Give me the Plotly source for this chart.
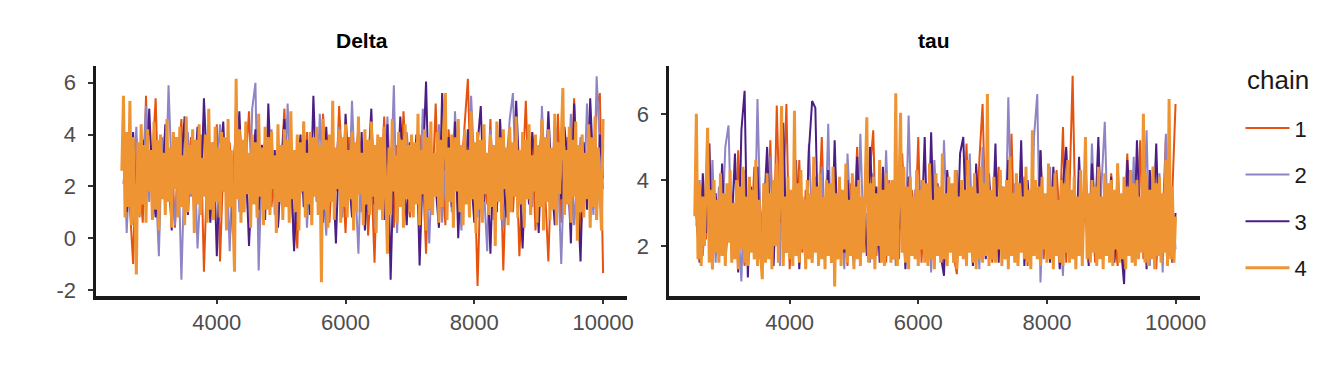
import plotly.graph_objects as go

# ---- data: thinned MCMC draws of the post-warmup iterations ----
iterations = list(range(2550, 10001, 50))        # chains 1-3: every 50th draw (150)
iterations_fine = list(range(2525, 10001, 25))   # chain 4: every 25th draw (300)

delta_chain1 = [2.1, 3.4, 1.2, -1.0, 3.8, 2.0, 0.6, 5.5, 1.8, 3.1, 5.4, 0.9, 2.7, 4.2, 1.5,
                3.3, 0.4, 2.9, 4.6, 1.1, 2.4, 3.9, 0.7, 2.2, 4.0, -1.3, 2.6, 3.5, 1.3, 4.4,
                -0.9, 2.8, 1.6, 3.7, 0.8, 5.3, 2.3, 1.0, 3.2, 4.9, 1.7, 2.5, 0.3, 3.6, 2.0,
                4.5, 1.2, 3.0, 0.5, 2.7, 5.0, 1.4, 3.4, 2.1, -0.4, 3.8, 1.9, 4.1, 0.9, 2.6,
                3.5, 1.3, 4.8, 2.2, 0.6, 3.1, 1.8, 5.1, 2.4, 0.2, 3.9, 1.5, 2.9, 4.3, 1.0,
                3.3, 0.1, 2.5, -0.95, 3.7, 2.0, 4.7, 1.1, 2.8, 0.4, 3.6, 1.7, 4.9, 2.3, 0.8,
                3.2, 1.4, 4.0, 2.6, -0.6, 3.5, 1.9, 5.2, 1.2, 2.9, 0.5, 4.2, 2.1, 3.4, 0.9,
                2.7, 4.4, 6.15, 1.6, 3.0, -1.85, 2.5, 3.8, 1.3, 4.6, 0.7, 2.2, 3.6, -1.25, 2.9,
                4.1, 1.0, 3.3, -0.7, 2.4, 5.3, 1.5, 3.7, 0.3, 2.8, 4.5, 1.8, -0.9, 3.1, 2.0,
                4.8, 0.6, 2.6, 3.9, 1.2, 5.4, 2.3, 0.0, 3.5, 1.7, 4.3, 2.9, 5.1, 5.6, -1.35]

delta_chain2 = [4.7, 0.2, 3.1, 1.9, 4.3, 0.8, 2.6, 5.1, 1.4, 3.6, 2.2, -0.7, 3.9, 1.1, 5.9,
                2.4, 0.5, 3.3, -1.6, 2.8, 4.1, 1.6, 3.5, -0.4, 2.1, 4.6, 1.3, 3.0, 0.7, 2.5,
                4.4, 1.8, 3.2, -0.5, 2.9, 4.0, 1.0, 3.7, 2.3, 0.6, 5.0, 6.0, -1.25, 2.7, 3.8,
                1.5, 4.2, 0.9, 2.4, 3.4, 1.2, 5.2, 2.0, -0.3, 3.6, 1.7, 4.5, 0.4, 2.6, 3.1,
                1.4, 4.8, 2.2, 0.1, 3.5, 1.9, 2.8, 4.3, 0.8, 3.0, 1.6, 5.3, 2.1, -0.6, 3.7,
                2.5, 1.1, 4.0, 0.5, 2.9, 3.6, 1.3, 4.7, 2.0, 5.9, 0.2, 3.3, 1.8, 4.1, 2.6,
                0.9, 3.8, 1.5, 5.0, 2.3, -0.2, 3.2, 1.7, 4.4, 0.6, 2.7, 3.5, 1.0, 4.9, 2.2,
                0.3, 3.9, 1.4, 5.5, 2.8, 0.8, 3.4, 1.9, -0.5, 4.2, 2.4, 1.1, 3.7, 0.4, 2.9,
                4.6, 5.6, 1.6, 3.1, -0.1, 2.5, 4.0, 1.2, 3.6, 0.7, 5.1, 2.0, 3.3, 1.5, 4.5,
                2.6, -1.0, 3.0, 1.8, 4.8, 0.5, 2.3, 3.9, 1.3, 5.2, 2.7, 0.9, 6.25, 3.5, 1.9]

delta_chain3 = [3.6, 1.0, 2.4, 4.1, 0.5, 2.9, 3.8, 1.3, 5.0, 2.2, 0.8, 3.5, 1.7, 4.4, 2.6,
                0.3, 3.9, 1.5, 2.8, 4.7, 0.9, 3.2, 2.0, 4.3, 1.2, 5.4, 2.5, 0.6, 3.7, -0.7,
                2.9, 4.5, 1.4, 3.3, 0.2, 2.6, 4.9, 1.8, 3.0, -0.3, 2.4, 4.2, 1.1, 3.6, 0.7,
                5.2, 2.1, 3.4, 0.4, 2.7, 4.6, 1.6, 3.1, -0.5, 2.3, 4.0, 1.2, 3.8, 0.9, 5.5,
                2.0, 3.5, 0.6, 4.3, 1.9, 2.8, -0.2, 3.6, 1.4, 4.8, 2.5, 0.8, 3.2, 1.7, 4.1,
                0.3, 2.6, 5.0, 1.3, 3.4, 2.2, 0.7, 4.4, -1.6, 3.0, 1.8, 4.7, 2.4, 0.5, 3.7,
                1.5, 4.0, -1.05, 2.7, 6.05, 1.1, 3.3, 2.0, 0.4, 5.6, 2.6, 3.9, 1.2, 4.5, 0.0,
                3.1, 1.9, 4.2, 2.3, 0.6, 3.6, 5.1, 1.4, 2.8, -0.6, 3.5, 1.0, 4.6, 2.1, 0.8,
                3.8, 1.6, 5.3, 2.4, -0.4, 3.2, 1.3, 4.1, 2.7, 0.2, 3.9, 1.8, 4.9, 2.2, 0.5,
                3.4, 1.5, 4.3, 2.9, -0.2, 5.2, 1.9, -0.9, 3.7, 1.1, 5.4, 2.5, 0.7, 4.0, 2.3]

delta_chain4 = [2.6, 5.5, 0.8, 4.1, 1.2, 5.3, 0.5, 3.9, 1.6, -1.4, 3.7, 0.9, 4.4, 1.3, 3.6, 0.6, 4.2, 1.8, 3.4, 0.7,
                4.5, 1.1, 3.8, 0.3, 4.0, 1.5, 3.3, 0.9, 4.6, 1.4, 3.5, 0.4, 4.1, 1.9, 3.9, 0.8, 4.3, 1.2, 3.2, 0.5,
                4.7, 1.0, 3.6, 1.7, 4.2, 0.2, 3.8, 1.3, 4.4, 0.9, 3.1, 1.6, 4.0, 0.6, 5.0, 1.1, 3.7, 0.7, 4.3, 1.4,
                3.5, 0.8, 4.1, 1.8, 3.9, 0.3, 4.6, 1.2, 3.4, 0.9, -1.3, 6.15, 1.5, 4.2, 0.6, 3.8, 1.0, 4.5, 1.7, 3.3,
                0.4, 4.0, 1.3, 3.7, 0.8, 4.8, 1.6, 3.5, 0.5, 4.3, 1.1, 3.9, 0.9, 4.1, 1.9, 3.2, 0.2, 4.4, 1.4, 3.6,
                0.7, 4.2, 1.2, 3.8, 0.6, 4.9, 1.5, 3.4, 1.0, 4.0, 0.3, 3.7, 1.8, 4.5, 0.8, 3.3, 1.3, 4.1, 0.5, 3.9,
                1.6, 4.3, 0.9, 3.6, -1.7, 4.6, 1.1, 3.8, 0.4, 4.0, 1.4, 5.3, 0.7, 3.5, 1.9, 4.2, 0.6, 3.9, 1.2, 4.4,
                0.8, 3.4, 1.5, 4.1, 0.3, 3.7, 1.0, 4.7, 1.7, 3.3, 0.5, 4.2, 1.3, 3.8, 0.9, 4.5, 1.6, 3.6, 0.2, 4.0,
                1.1, 3.9, 0.7, 4.3, 1.4, -0.6, 3.5, 0.9, 4.6, 1.8, 3.2, 0.6, 4.1, 1.2, 3.8, 0.4, 4.4, 1.5, 3.6, 1.0,
                4.0, 0.8, 3.7, 1.3, 4.8, 0.5, 3.4, 1.7, 4.2, 0.3, 3.9, 1.1, 4.5, 0.9, 3.3, 1.6, 4.1, 0.6, 3.8, 1.2,
                4.3, 5.6, 0.7, 3.5, 1.4, 4.0, 0.4, 3.9, 1.8, 4.6, 1.0, 3.6, 0.5, 4.2, 1.3, 3.4, 0.8, 4.9, 1.5, 3.7,
                0.2, 4.1, 1.1, 3.8, 0.6, 4.4, 1.7, 3.3, 0.9, 4.0, 1.2, 3.6, -0.3, 4.5, 1.4, 3.9, 0.7, 4.2, 1.9, 3.5,
                0.5, 4.3, 1.0, 3.7, 1.6, 4.7, 0.8, 3.4, 1.3, 4.1, 0.4, 3.8, 1.5, 4.4, 0.9, 3.2, 1.8, 4.0, 0.6, 3.6,
                1.2, 4.6, 0.3, 3.9, 1.4, 4.2, 0.7, 3.5, 1.1, 4.8, 0.5, 3.7, 1.7, 4.1, 5.8, 0.9, 3.4, 1.3, 4.3, 0.6,
                3.8, 1.6, 4.5, -0.1, 3.6, 1.0, 4.0, 0.8, 3.3, 1.5, 4.4, 0.4, 3.9, 1.2, 4.7, 0.7, 3.5, 1.9, 0.3, 4.6]

tau_chain1 = [2.9, 1.6, 3.8, 2.2, 5.1, 1.8, 3.3, 2.5, 4.2, 1.5, 2.8, 3.6, 1.9, 4.9, 2.4,
              1.4, 3.5, 2.1, 4.4, 2.7, 1.7, 3.9, 2.3, 5.2, 1.6, 6.25, 2.6, 3.4, 6.3, 1.3,
              3.0, 2.0, 4.6, 1.8, 3.7, 2.5, 1.5, 4.1, 2.9, 5.3, 1.9, 3.2, 2.2, 4.7, 1.6,
              3.6, 2.4, 1.4, 3.9, 2.7, 5.0, 1.8, 3.3, 2.1, 4.3, 5.5, 1.7, 3.5, 2.6, 1.5,
              4.0, 2.3, 3.1, 1.6, 4.8, 2.8, 1.9, 3.7, 2.4, 5.3, 1.5, 3.4, 2.2, 4.5, 1.8,
              2.9, 3.6, 1.4, 4.2, 2.5, 1.7, 1.15, 3.8, 2.6, 5.1, 2.0, 3.3, 1.6, 4.6, 6.3,
              2.3, 3.9, 1.5, 2.8, 4.4, 1.9, 3.2, 2.6, 5.4, 1.7, 3.5, 2.1, 4.1, 1.4, 2.9,
              3.7, 2.2, 4.9, 1.6, 3.3, 2.5, 1.8, 4.3, 2.8, 5.6, 1.5, 3.6, 7.15, 2.0, 3.0,
              1.7, 4.5, 2.4, 3.4, 1.5, 5.0, 2.7, 3.8, 1.9, 4.2, 2.3, 1.4, 3.5, 2.6, 4.8,
              1.8, 3.1, 2.2, 5.2, 1.6, 3.9, 2.5, 4.4, 1.3, 3.3, 2.8, 5.3, 1.7, 3.6, 6.3]

tau_chain2 = [2.6, 4.0, 1.7, 3.3, 2.2, 4.6, 1.5, 3.8, 2.4, 5.0, 5.65, 1.9, 3.1, 2.7, 0.93,
              4.3, 2.1, 3.6, 1.6, 6.45, 2.5, 3.4, 1.8, 4.7, 2.3, 3.0, 1.4, 5.3, 2.8, 3.7,
              1.7, 4.1, 2.2, 3.5, 1.5, 5.1, 2.6, 3.2, 1.9, 4.4, 2.0, 5.7, 1.6, 3.9, 2.4,
              3.1, 1.3, 4.8, 2.7, 3.6, 1.8, 5.4, 2.2, 3.0, 1.5, 4.2, 2.5, 3.8, 1.7, 4.9,
              2.1, 3.4, 1.4, 4.5, 2.9, 1.9, 5.95, 2.4, 3.7, 1.6, 4.0, 2.2, 3.3, 1.2, 4.6,
              2.8, 1.7, 5.2, 2.3, 3.5, 1.5, 4.3, 2.6, 3.1, 1.8, 4.8, 2.0, 3.8, 1.3, 5.0,
              2.5, 3.6, 1.7, 4.2, 2.1, 3.3, 1.6, 6.5, 2.7, 3.9, 1.4, 4.6, 2.3, 3.0, 1.8,
              5.3, 6.6, 0.9, 3.4, 2.2, 4.4, 1.5, 3.7, 2.6, 1.1, 4.9, 2.0, 3.2, 1.7, 4.1,
              2.4, 3.6, 1.5, 5.1, 2.8, 1.8, 3.9, 5.76, 2.2, 3.3, 1.6, 4.5, 2.5, 1.3, 3.8,
              2.1, 4.7, 1.7, 3.0, 2.6, 5.5, 1.4, 3.5, 2.3, 4.2, 1.2, 5.4, 2.7, 3.4, 1.9]

tau_chain3 = [3.1, 1.5, 4.2, 2.4, 5.1, 1.3, 3.6, 2.0, 4.5, 1.7, 3.3, 2.6, 4.8, 1.2, 5.5,
              6.7, 1.05, 3.8, 2.3, 4.4, 1.6, 3.0, 5.0, 2.2, 1.4, 3.9, 2.7, 5.73, 1.8, 3.4,
              2.5, 4.6, 1.3, 3.2, 2.0, 4.9, 6.39, 6.18, 1.6, 3.5, 2.8, 4.3, 1.5, 5.2, 2.1,
              3.7, 1.8, 4.0, 2.6, 1.4, 4.7, 2.3, 3.3, 1.7, 5.0, 2.9, 3.8, 1.5, 4.4, 2.2,
              3.0, 1.6, 4.6, 2.5, 3.5, 1.3, 4.1, 2.8, 1.9, 3.7, 2.4, 5.3, 1.5, 5.44, 2.1,
              3.9, 1.7, 1.1, 4.3, 2.6, 3.2, 1.8, 4.8, 5.3, 2.0, 3.6, 1.4, 4.5, 2.7, 3.1,
              1.6, 4.2, 2.3, 5.1, 1.5, 3.8, 2.9, 4.6, 1.7, 3.3, 2.1, 5.2, 1.4, 4.0, 2.6,
              3.5, 1.8, 4.9, 2.4, 3.1, 1.5, 4.4, 2.7, 1.3, 3.9, 5.0, 2.2, 3.6, 1.6, 4.7,
              2.5, 3.2, 1.4, 4.5, 2.8, 5.3, 1.7, 3.7, 2.3, 4.1, 1.5, 3.4, 2.0, 0.85, 4.6,
              2.9, 1.6, 5.2, 2.4, 3.8, 1.3, 4.3, 2.6, 5.1, 1.8, 3.5, 2.2, 4.8, 1.5, 3.0]

tau_chain4 = [2.9, 6.0, 1.6, 3.9, 1.4, 3.5, 2.0, 4.1, 5.58, 1.5, 3.7, 1.3, 4.0, 1.8, 3.4, 1.5, 4.2, 1.7, 3.6, 1.4,
              3.9, 2.1, 4.3, 1.5, 3.3, 1.6, 4.0, 1.3, 3.8, 1.9, 4.4, 1.5, 3.5, 1.4, 4.1, 1.8, 3.7, 1.6, 4.6, 1.4,
              3.4, 1.7, 1.0, 3.9, 1.5, 4.2, 1.6, 3.6, 1.3, 4.0, 2.0, 4.5, 1.5, 3.8, 6.24, 1.4, 3.5, 1.8, 4.1, 1.6,
              3.7, 1.4, 6.09, 1.7, 3.9, 1.5, 4.3, 1.9, 3.4, 1.3, 4.0, 1.6, 3.6, 1.5, 4.7, 1.8, 3.8, 1.4, 4.2, 1.6,
              3.5, 1.3, 4.0, 1.7, 3.9, 1.5, 4.4, 0.78, 3.6, 1.6, 4.1, 1.4, 3.7, 1.9, 4.5, 1.5, 3.4, 1.7, 4.2, 1.3,
              3.8, 1.6, 4.0, 1.4, 3.5, 1.8, 4.3, 5.9, 1.5, 3.9, 1.6, 4.1, 1.3, 3.6, 2.0, 4.6, 1.5, 3.7, 1.4, 4.2,
              1.7, 3.9, 1.5, 4.0, 1.6, 6.62, 1.4, 3.6, 6.03, 1.8, 4.4, 1.5, 3.8, 1.3, 4.1, 1.7, 3.5, 1.6, 4.3, 1.4,
              3.7, 1.9, 4.0, 1.5, 3.9, 1.4, 4.5, 1.6, 3.4, 1.3, 4.2, 1.7, 3.8, 1.5, 4.8, 1.6, 3.6, 1.4, 4.1, 1.8,
              3.9, 1.5, 4.3, 1.3, 3.5, 1.7, 4.0, 1.6, 3.7, 1.4, 4.6, 1.8, 3.8, 1.5, 4.2, 1.3, 3.6, 1.6, 4.4, 1.5,
              3.9, 1.7, 6.6, 1.4, 3.7, 1.6, 4.1, 1.5, 3.5, 1.9, 4.3, 1.4, 3.8, 1.6, 4.0, 1.3, 4.7, 1.7, 3.6, 1.5,
              4.2, 1.4, 3.9, 1.8, 3.5, 1.6, 4.4, 1.5, 3.7, 1.3, 5.5, 1.7, 4.0, 1.6, 3.8, 1.4, 4.1, 1.9, 3.6, 1.5,
              4.5, 1.6, 3.8, 1.3, 4.2, 1.7, 3.4, 1.5, 4.0, 1.4, 3.9, 1.8, 4.6, 1.5, 3.7, 1.6, 4.1, 1.3, 3.5, 1.7,
              4.3, 1.4, 3.9, 5.3, 1.6, 3.6, 1.5, 4.0, 1.8, 3.8, 1.4, 4.4, 1.6, 3.5, 1.3, 4.2, 1.7, 3.9, 1.5, 4.0,
              1.4, 3.7, 1.9, 4.5, 1.5, 3.6, 1.6, 4.1, 1.3, 3.8, 1.7, 4.3, 1.5, 3.9, 1.4, 4.0, 1.6, 3.5, 1.8, 6.0,
              1.5, 4.2, 1.4, 3.7, 1.6, 4.4, 1.3, 3.9, 1.7, 4.1, 1.5, 3.6, 1.8, 4.6, 1.4, 6.45, 1.6, 3.8, 1.5, 2.9]

chains = ["1", "2", "3", "4"]
chain_colors = ["#E5540E", "#8F84C4", "#4B1D85", "#EE9433"]
chain_widths = [2.0, 2.0, 2.0, 3.0]
chain_iters = [iterations, iterations, iterations, iterations_fine]
delta_chains = [delta_chain1, delta_chain2, delta_chain3, delta_chain4]
tau_chains = [tau_chain1, tau_chain2, tau_chain3, tau_chain4]

x_ticks = [4000, 6000, 8000, 10000]
x_ticktext = ["4000", "6000", "8000", "10000"]
delta_yticks = [-2, 0, 2, 4, 6]
delta_yticktext = ["-2", "0", "2", "4", "6"]
tau_yticks = [2, 4, 6]
tau_yticktext = ["2", "4", "6"]
panel_titles = ["Delta", "tau"]
legend_title = "chain"

# ---- figure ----
W, H = 1344, 384
FONT = "Liberation Sans, Arial, Helvetica, sans-serif"

fig = go.Figure()
for name, col, lw, its, dvals, tvals in zip(chains, chain_colors, chain_widths,
                                            chain_iters, delta_chains, tau_chains):
    fig.add_trace(go.Scatter(x=its, y=dvals, mode="lines", name=name,
                             line=dict(color=col, width=lw), legendgroup=name,
                             showlegend=True, xaxis="x", yaxis="y"))
    fig.add_trace(go.Scatter(x=its, y=tvals, mode="lines", name=name,
                             line=dict(color=col, width=lw), legendgroup=name,
                             showlegend=False, xaxis="x2", yaxis="y2"))

def px_x(p):
    return p / W

def px_y(p):
    return (H - p) / H

y_dom = [px_y(293), px_y(59)]
common_x = dict(range=[2125, 10375], tickvals=x_ticks, ticktext=x_ticktext,
                showline=True, linewidth=4, linecolor="#1a1a1a", ticks="outside",
                ticklen=4, tickwidth=2, tickcolor="#333333", showgrid=False,
                zeroline=False, tickfont=dict(family=FONT, size=22, color="#4d4d4d"))
common_y = dict(showline=True, linewidth=2.5, linecolor="#1a1a1a", ticks="outside",
                ticklen=5, tickwidth=2, tickcolor="#333333", showgrid=False,
                zeroline=False, tickfont=dict(family=FONT, size=22, color="#4d4d4d"),
                ticklabelstandoff=8)

fig.update_layout(
    width=W, height=H,
    margin=dict(l=0, r=0, t=0, b=0),
    paper_bgcolor="white", plot_bgcolor="white",
    xaxis=dict(domain=[px_x(88.5), px_x(622)], anchor="y", **common_x),
    yaxis=dict(domain=y_dom, anchor="x", range=[-2.22, 6.65],
               tickvals=delta_yticks, ticktext=delta_yticktext, **common_y),
    xaxis2=dict(domain=[px_x(664), px_x(1197)], anchor="y2", **common_x),
    yaxis2=dict(domain=y_dom, anchor="x2", range=[0.5, 7.45],
                tickvals=tau_yticks, ticktext=tau_yticktext, **common_y),
    legend=dict(font=dict(family=FONT, size=22, color="#1a1a1a"),
                x=px_x(1238), y=px_y(101), xanchor="left", yanchor="top",
                traceorder="grouped", tracegroupgap=15, itemwidth=44,
                bgcolor="rgba(0,0,0,0)"),
    showlegend=True,
)

for title, dom in zip(panel_titles, [[88.5, 622], [664, 1197]]):
    fig.add_annotation(text=f"<b>{title}</b>", x=px_x((dom[0] + dom[1]) / 2), y=px_y(33),
                       xref="paper", yref="paper", showarrow=False,
                       xanchor="center", yanchor="middle",
                       font=dict(family=FONT, size=21, color="black"))

fig.add_annotation(text=legend_title, x=px_x(1276), y=px_y(73), xref="paper", yref="paper",
                   showarrow=False, xanchor="center", yanchor="middle",
                   font=dict(family=FONT, size=26, color="#1a1a1a"))

fig.write_html("out.html")
